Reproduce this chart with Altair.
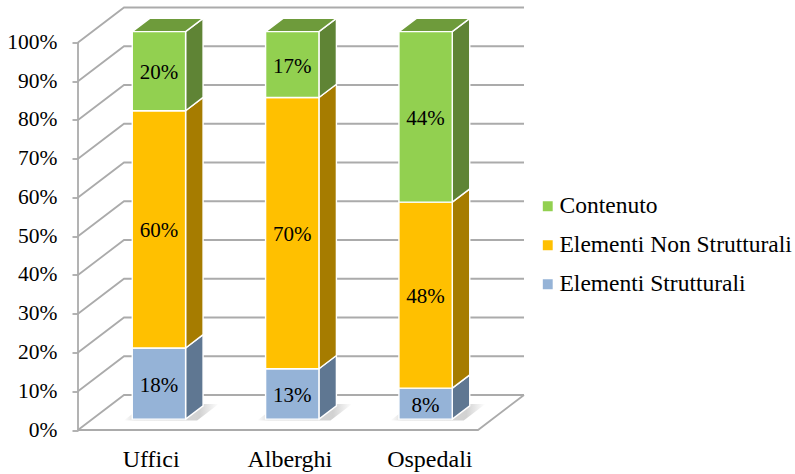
import altair as alt
import pandas as pd

# Stacked shares per building type, as labelled on the bars
categories = ["Uffici", "Alberghi", "Ospedali"]
strutturali = [18, 13, 8]
non_strutturali = [60, 70, 48]
contenuto = [20, 17, 44]

series_names = ["Elementi Strutturali", "Elementi Non Strutturali", "Contenuto"]
legend_order = ["Contenuto", "Elementi Non Strutturali", "Elementi Strutturali"]
front_colors = {"Elementi Strutturali": "#95B3D7", "Elementi Non Strutturali": "#FFC000", "Contenuto": "#92D050"}
side_colors = {"Elementi Strutturali": "#5F7792", "Elementi Non Strutturali": "#A67C00", "Contenuto": "#5F8435"}
top_color = "#6E9B3B"
grid_color = "#ABABAB"
FONT = "Liberation Serif"

y_ticks = list(range(0, 101, 10))
x_label_positions = [0.545, 1.585, 2.635]

# Oblique projection: depth 0 is the front plane, depth 1 the back wall
DEPTH_X = 0.345
DEPTH_Y = 9.03
N = len(categories)
BAR_LEFT, BAR_RIGHT = 0.30, 0.70
BAR_NEAR, BAR_FAR = 0.31, 0.69


def project(x, pct, depth):
    return x + depth * DEPTH_X, pct + depth * DEPTH_Y


# Wall and floor outlines
wall_rows = []
for tick in y_ticks:
    corner = project(0, tick, 0)
    back_left = project(0, tick, 1)
    back_right = project(N, tick, 1)
    for order, (px, py) in enumerate([corner, back_left, back_right]):
        wall_rows.append({"line": f"g{tick}", "order": order, "x": px, "y": py})
for order, (px, py) in enumerate([project(0, 0, 0), project(N, 0, 0), project(N, 0, 1)]):
    wall_rows.append({"line": "floor", "order": order, "x": px, "y": py})
for order, (px, py) in enumerate([project(0, 0, 0), project(0, 100, 0)]):
    wall_rows.append({"line": "axis", "order": order, "x": px, "y": py})
walls = pd.DataFrame(wall_rows)

# Bar faces, built from the normalised stack
front_rows, side_rows, top_rows, label_rows, shadow_rows = [], [], [], [], []
for i, cat in enumerate(categories):
    vals = [strutturali[i], non_strutturali[i], contenuto[i]]
    total = sum(vals)
    base = 0.0
    for name, v in zip(series_names, vals):
        low = base
        high = base + v / total * 100
        base = high
        x0, y0 = project(i + BAR_LEFT, low, BAR_NEAR)
        x1, y1 = project(i + BAR_RIGHT, high, BAR_NEAR)
        front_rows.append({"serie": name, "x": x0, "x2": x1, "y": y0, "y2": y1})
        label_rows.append({"x": (x0 + x1) / 2, "y": (y0 + y1) / 2, "label": f"{v}%"})
        for depth in (BAR_NEAR, BAR_FAR):
            sx, sy0 = project(i + BAR_RIGHT, low, depth)
            _, sy1 = project(i + BAR_RIGHT, high, depth)
            side_rows.append({"serie": name, "seg": f"{cat}-{name}", "x": sx, "y": sy0, "y2": sy1})
    for depth in (BAR_NEAR, BAR_FAR):
        tx0, ty = project(i + BAR_LEFT, 100, depth)
        tx1, _ = project(i + BAR_RIGHT, 100, depth)
        top_rows.append({"seg": cat, "x": tx0, "x2": tx1, "y": ty})
    # Soft shadow cast on the floor
    for depth, pct in ((0.27, 0), (0.74, 0)):
        sx0, sy = project(i + BAR_LEFT - 0.05, pct, depth)
        sx1, _ = project(i + BAR_RIGHT + 0.10, pct, depth)
        shadow_rows.append({"seg": cat, "x": sx0, "x2": sx1, "y": sy})

front = pd.DataFrame(front_rows)
sides = pd.DataFrame(side_rows)
tops = pd.DataFrame(top_rows)
labels = pd.DataFrame(label_rows)
shadows = pd.DataFrame(shadow_rows)

x_scale = alt.Scale(domain=[0, N + DEPTH_X], nice=False, zero=False)
y_scale = alt.Scale(domain=[0, 100 + DEPTH_Y], nice=False, zero=False)

x_axis = alt.Axis(
    values=x_label_positions,
    labelExpr="datum.value < 1 ? 'Uffici' : datum.value < 2 ? 'Alberghi' : 'Ospedali'",
    title=None,
    domain=False,
    ticks=False,
    grid=False,
    labelFont=FONT,
    labelFontSize=24,
    labelColor="#000000",
    labelPadding=17,
    labelOverlap=False,
    labelFlush=False,
)
y_axis = alt.Axis(
    values=y_ticks,
    labelExpr="datum.value + '%'",
    title=None,
    domain=False,
    grid=False,
    tickSize=6,
    tickColor=grid_color,
    tickWidth=1.8,
    labelFont=FONT,
    labelFontSize=21.5,
    labelColor="#000000",
    labelPadding=15,
    labelOverlap=False,
    labelFlush=False,
)
x_enc = alt.X("x:Q", scale=x_scale, axis=x_axis)
y_enc = alt.Y("y:Q", scale=y_scale, axis=y_axis)

grid = alt.Chart(walls).mark_line(color=grid_color, strokeWidth=1.8).encode(
    x=x_enc,
    y=y_enc,
    detail="line:N",
    order="order:Q",
)

shadow = alt.Chart(shadows).mark_area(
    orient="horizontal",
    color=alt.Gradient(
        gradient="linear",
        x1=0, x2=1, y1=0, y2=0,
        stops=[
            alt.GradientStop(offset=0, color="#FFFFFF"),
            alt.GradientStop(offset=0.12, color="#DEDEDE"),
            alt.GradientStop(offset=0.8, color="#D2D2D2"),
            alt.GradientStop(offset=1, color="#FFFFFF"),
        ],
    ),
).encode(x=x_enc, x2="x2:Q", y=y_enc, detail="seg:N")

side_layers = [
    alt.Chart(sides[sides.serie == name]).mark_area(
        color=side_colors[name], stroke="#FFFFFF", strokeWidth=1.4
    ).encode(x=x_enc, y=y_enc, y2="y2:Q", detail="seg:N")
    for name in series_names
]

top = alt.Chart(tops).mark_area(
    orient="horizontal", color=top_color, stroke="#FFFFFF", strokeWidth=1.4
).encode(x=x_enc, x2="x2:Q", y=y_enc, detail="seg:N")

faces = alt.Chart(front).mark_rect(stroke="#FFFFFF", strokeWidth=1.4).encode(
    x=x_enc,
    x2="x2:Q",
    y=y_enc,
    y2="y2:Q",
    color=alt.Color(
        "serie:N",
        scale=alt.Scale(domain=legend_order, range=[front_colors[s] for s in legend_order]),
        legend=alt.Legend(
            orient="none",
            legendX=458,
            legendY=187,
            padding=0,
            title=None,
            symbolType="square",
            symbolSize=130,
            labelFont=FONT,
            labelFontSize=23.5,
            labelColor="#000000",
            labelOffset=0,
            rowPadding=14,
            labelLimit=300,
        ),
    ),
)

value_text = alt.Chart(labels).mark_text(font=FONT, fontSize=21, color="#000000", dy=2).encode(
    x=x_enc,
    y=y_enc,
    text="label:N",
)

chart = alt.layer(grid, shadow, *side_layers, top, faces, value_text).properties(
    width=446,
    height=422.5,
    padding={"left": 78, "top": 7.5, "right": 271, "bottom": 44},
    autosize=alt.AutoSizeParams(type="none"),
    background="#FFFFFF",
).configure_view(stroke=None)

chart.save("out.html", embed_options={"renderer": "svg", "actions": False})
